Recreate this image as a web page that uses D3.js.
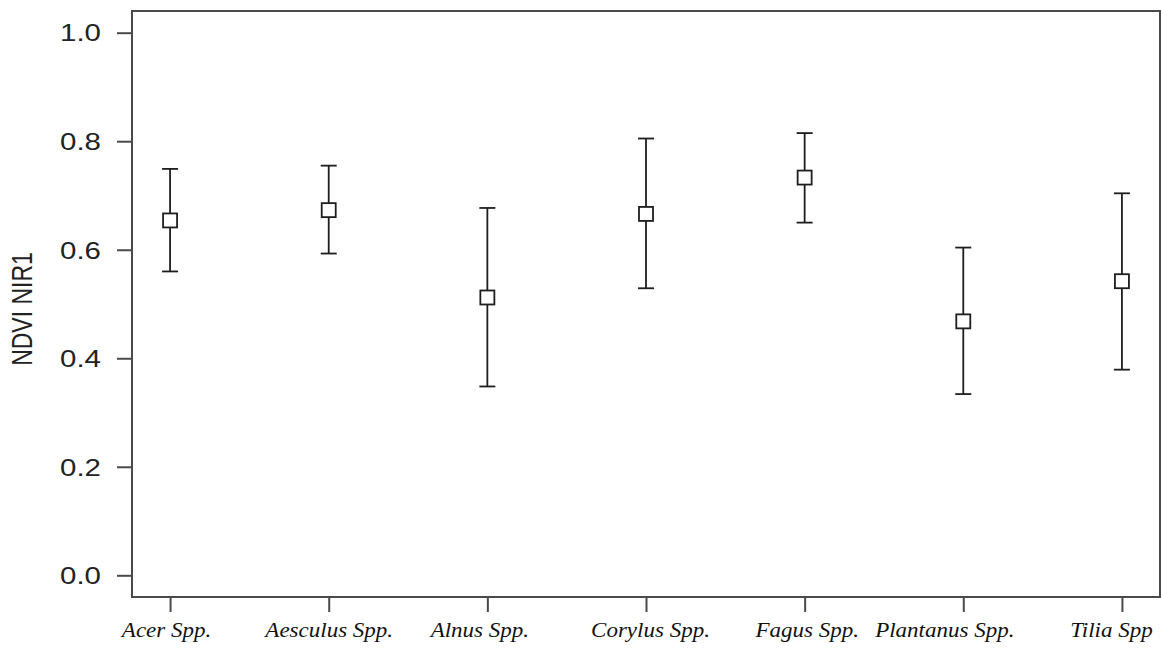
<!DOCTYPE html>
<html>
<head>
<meta charset="utf-8">
<script src="https://cdn.jsdelivr.net/npm/d3@7"></script>
<style>
  html, body { margin: 0; padding: 0; background: #fff; }
  svg { display: block; }
</style>
</head>
<body>
<svg id="chart" width="1161" height="653"></svg>
<script>
const categories = ["Acer Spp.", "Aesculus Spp.", "Alnus Spp.", "Corylus Spp.", "Fagus Spp.", "Plantanus Spp.", "Tilia Spp"];
const means = [0.654, 0.673, 0.512, 0.666, 0.733, 0.468, 0.542];
const upper = [0.749, 0.755, 0.677, 0.805, 0.815, 0.604, 0.704];
const lower = [0.560, 0.593, 0.348, 0.529, 0.650, 0.334, 0.379];
const yTicks = [0.0, 0.2, 0.4, 0.6, 0.8, 1.0];
const yTitle = "NDVI NIR1";

(function () {
const svg = d3.select("#chart");
const pL = 132, pR = 1160, pT = 11, pB = 597;

const x = d3.scalePoint().domain(categories).range([pL, pR]).padding(0.24);
const y = d3.scaleLinear().domain([-0.04, 1.04]).range([pB, pT]);

const axisColor = "#4a4a4a";
const markColor = "#1e1e1e";

// Y axis
const yAxis = svg.append("g")
  .attr("transform", `translate(${pL},0)`)
  .call(d3.axisLeft(y).tickValues(yTicks).tickFormat(d3.format(".1f")).tickSize(15).tickPadding(0));
yAxis.select(".domain").remove();
yAxis.selectAll(".tick line").attr("stroke", axisColor).attr("stroke-width", 2);
yAxis.selectAll(".tick text")
  .attr("x", 0).attr("dy", "0.36em")
  .attr("transform", "translate(-31,0) scale(1.28,1)")
  .attr("fill", "#222")
  .style("font-family", "'Liberation Sans', Arial, sans-serif")
  .style("font-size", "23px");

// X axis (label nudges mimic the reference's slight label offsets)
const labelNudge = { "Acer Spp.": -4, "Alnus Spp.": -8, "Corylus Spp.": 4, "Fagus Spp.": 2, "Plantanus Spp.": -19, "Tilia Spp": -11 };
const xAxis = svg.append("g")
  .attr("transform", `translate(0,${pB})`)
  .call(d3.axisBottom(x).tickSize(15).tickPadding(0));
xAxis.select(".domain").remove();
xAxis.selectAll(".tick line").attr("stroke", axisColor).attr("stroke-width", 2);
xAxis.selectAll(".tick text")
  .attr("y", 0).attr("dy", 0)
  .attr("transform", d => `translate(${labelNudge[d] || 0},40) scale(1.15,1)`)
  .attr("fill", "#111")
  .style("font-family", "'Liberation Serif', 'Times New Roman', serif")
  .style("font-style", "italic")
  .style("font-size", "20px");

// Frame
svg.append("rect")
  .attr("x", pL).attr("y", pT)
  .attr("width", pR - pL).attr("height", pB - pT)
  .attr("fill", "none").attr("stroke", axisColor).attr("stroke-width", 2);

// Y title
svg.append("text")
  .attr("transform", `translate(32,${(pT + pB) / 2 + 5}) scale(1.32,1) rotate(-90)`)
  .attr("text-anchor", "middle")
  .attr("fill", "#222")
  .style("font-family", "'Liberation Sans', Arial, sans-serif")
  .style("font-size", "23px")
  .text(yTitle);

// Error bars
const data = categories.map((c, i) => ({ c, m: means[i], hi: upper[i], lo: lower[i] }));
const capW = 8;
const g = svg.append("g").attr("stroke", markColor).attr("stroke-width", 1.8).attr("fill", "none");
g.selectAll("line.v").data(data).join("line").attr("class", "v")
  .attr("x1", d => x(d.c)).attr("x2", d => x(d.c))
  .attr("y1", d => y(d.hi)).attr("y2", d => y(d.lo));
g.selectAll("line.hi").data(data).join("line").attr("class", "hi")
  .attr("x1", d => x(d.c) - capW).attr("x2", d => x(d.c) + capW)
  .attr("y1", d => y(d.hi)).attr("y2", d => y(d.hi));
g.selectAll("line.lo").data(data).join("line").attr("class", "lo")
  .attr("x1", d => x(d.c) - capW).attr("x2", d => x(d.c) + capW)
  .attr("y1", d => y(d.lo)).attr("y2", d => y(d.lo));

// Square markers
const s = 14;
g.selectAll("rect.pt").data(data).join("rect").attr("class", "pt")
  .attr("x", d => x(d.c) - s / 2).attr("y", d => y(d.m) - s / 2)
  .attr("width", s).attr("height", s)
  .attr("fill", "#fff");
})();
</script>
</body>
</html>
